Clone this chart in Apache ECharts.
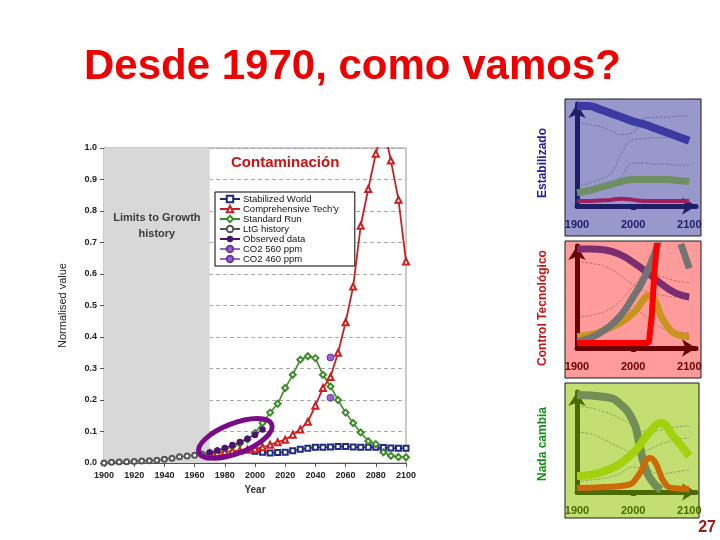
<!DOCTYPE html>
<html>
<head>
<meta charset="utf-8">
<script src="https://cdn.jsdelivr.net/npm/echarts@6/dist/echarts.min.js"></script>
<style>html,body{margin:0;padding:0;background:#fff}#c{width:720px;height:540px}</style>
</head>
<body>
<div id="c"></div>
<script>
// ---------- main chart data ----------
const ltgYears = [1900,1905,1910,1915,1920,1925,1930,1935,1940,1945,1950,1955,1960,1965,1970];
const ltgHistory = [0.0,0.002,0.003,0.004,0.005,0.006,0.007,0.009,0.012,0.015,0.02,0.022,0.025,0.028,0.032];
const runYears = [1970,1975,1980,1985,1990,1995,2000,2005,2010,2015,2020,2025,2030,2035,2040,2045,2050,2055,2060,2065,2070,2075,2080,2085,2090,2095,2100];
const standardRun = [0.03,0.038,0.045,0.052,0.062,0.075,0.095,0.127,0.16,0.188,0.238,0.28,0.328,0.339,0.333,0.28,0.243,0.2,0.16,0.127,0.097,0.069,0.06,0.034,0.023,0.019,0.018];
const compTech = [0.03,0.032,0.035,0.038,0.04,0.042,0.045,0.05,0.058,0.066,0.074,0.09,0.106,0.131,0.182,0.238,0.273,0.35,0.447,0.56,0.753,0.87,0.982,1.07,0.96,0.836,0.64];
const stabYears = [2000,2005,2010,2015,2020,2025,2030,2035,2040,2045,2050,2055,2060,2065,2070,2075,2080,2085,2090,2095,2100];
const stabilized = [0.037,0.034,0.032,0.033,0.034,0.039,0.044,0.047,0.05,0.05,0.051,0.052,0.052,0.051,0.05,0.05,0.05,0.049,0.048,0.047,0.047];
const obsYears = [1970,1975,1980,1985,1990,1995,2000,2005];
const observed = [0.033,0.04,0.048,0.057,0.067,0.077,0.089,0.106];
const co2Year = [2050];
const co2_560 = [0.335];
const co2_460 = [0.207];
const xTicks = {min:1900, max:2100, step:20};
const yTicks = {min:0, max:1, step:0.1};
const historyRange = [1900, 1970];
const ringCenter = [1987, 0.078];

// ---------- thumbnail panels data ----------
const p1Years = [1900,1920,1940,1960,1980,2000,2020,2040,2060,2080,2100];
const p1Blue  = [0.98,0.98,0.95,0.91,0.87,0.83,0.80,0.76,0.72,0.68,0.64];
const p1Green = [0.13,0.15,0.18,0.21,0.24,0.26,0.26,0.26,0.26,0.25,0.24];
const p1Red   = [0.05,0.05,0.055,0.06,0.07,0.06,0.05,0.05,0.05,0.05,0.05];
const p1FaintA = [0.19,0.22,0.26,0.32,0.52,0.65,0.66,0.67,0.67,0.67,0.67];
const p1FaintB = [0.10,0.13,0.16,0.20,0.30,0.42,0.42,0.41,0.41,0.40,0.40];
const p1FaintC = [0.82,0.80,0.78,0.74,0.70,0.72,0.86,0.87,0.87,0.88,0.88];

const p2Years = [1900,1925,1950,1975,2000,2025,2050,2075,2100];
const p2Purple = [0.97,0.97,0.96,0.92,0.84,0.74,0.63,0.54,0.50];
const p2GoldYears = [1900,1925,1950,1975,2000,2015,2025,2032,2040,2050,2060,2075,2100];
const p2Gold = [0.11,0.13,0.18,0.24,0.34,0.45,0.51,0.52,0.45,0.31,0.22,0.14,0.11];
const p2GreyYears = [1900,1925,1950,1975,2000,2020,2040,2050];
const p2Grey = [0.06,0.10,0.18,0.30,0.50,0.69,0.95,1.15];
const p2GreyTailYears = [2085,2100];
const p2GreyTail = [1.02,0.78];
const p2RedYears = [1900,1950,2000,2028,2033,2038,2042,2045];
const p2Red = [0.05,0.05,0.05,0.05,0.30,0.75,1.0,1.2];
const p2FaintA = [0.85,0.83,0.80,0.72,0.62,0.55,0.52,0.50,0.50];
const p2FaintB = [0.30,0.32,0.36,0.45,0.60,0.72,0.70,0.66,0.64];
const p2FaintC = [0.14,0.16,0.20,0.28,0.38,0.30,0.20,0.16,0.15];

const p3OliveYears = [1900,1950,1975,2000,2010,2020,2035,2050];
const p3Olive = [0.97,0.95,0.89,0.71,0.51,0.27,0.10,0.02];
const p3LimeYears = [1900,1950,2000,2025,2050,2070,2100];
const p3Lime = [0.16,0.21,0.39,0.57,0.69,0.57,0.36];
const p3OrangeYears = [1900,1950,1990,2010,2030,2040,2055,2070,2100];
const p3Orange = [0.04,0.05,0.07,0.17,0.34,0.29,0.10,0.04,0.03];
const p3FaintYears = [1900,1925,1950,1975,2000,2025,2050,2075,2100];
const p3FaintA = [0.86,0.84,0.80,0.74,0.66,0.60,0.62,0.65,0.66];
const p3FaintB = [0.10,0.12,0.14,0.18,0.25,0.22,0.18,0.20,0.22];
const p3FaintC = [0.60,0.58,0.52,0.45,0.40,0.42,0.48,0.52,0.54];
const panelTicks = [1900, 2000, 2100];

const zip = (xs, ys) => xs.map((x, i) => [x, ys[i]]);
const FONT = '"Liberation Sans", Arial, sans-serif';
const plain = v => String(v);

const chart = echarts.init(document.getElementById('c'), null, {renderer: 'canvas'});

function panelX(gi, color) {
  return {
    gridIndex: gi, type: 'value', min: 1900, max: 2112,
    axisLine: {show: true, onZero: false, symbol: ['none', 'arrow'], symbolSize: [13, 14],
      lineStyle: {color: color, width: 5}},
    axisTick: {show: true, customValues: [2000], length: 4, lineStyle: {color: color, width: 5}},
    axisLabel: {show: true, customValues: panelTicks, margin: 13, fontFamily: FONT,
      fontWeight: 'bold', fontSize: 11, color: color, formatter: plain},
    splitLine: {show: false}
  };
}
function panelY(gi, color) {
  return {
    gridIndex: gi, type: 'value', min: 0, max: 1,
    axisLine: {show: true, onZero: false, symbol: ['none', 'arrow'], symbolSize: [13, 14],
      lineStyle: {color: color, width: 5}},
    axisTick: {show: false}, axisLabel: {show: false}, splitLine: {show: false}
  };
}
function thick(gi, name, data, color, width, smooth) {
  return {type: 'line', name: name, xAxisIndex: gi, yAxisIndex: gi, data: data,
    showSymbol: false, symbol: 'none', smooth: smooth === undefined ? true : smooth,
    clip: true, lineStyle: {color: color, width: width, cap: 'butt'}, z: 5, silent: true};
}
function faint(gi, name, data) {
  return {type: 'line', name: name, xAxisIndex: gi, yAxisIndex: gi, data: data,
    symbol: 'none', smooth: true, clip: true, silent: true,
    lineStyle: {color: '#222', width: 0.7, type: 'dashed', opacity: 0.45}, z: 3};
}

const legendNames = ['Stabilized World', "Comprehensive Tech'y", 'Standard Run', 'LtG history', 'Observed data', 'CO2 560 ppm', 'CO2 460 ppm'];
const thinMark = {borderWidth: 1};

const option = {
  animation: false,
  backgroundColor: '#ffffff',
  textStyle: {fontFamily: FONT},
  legend: {
    data: legendNames, orient: 'vertical', left: 215, top: 192,
    padding: [2, 16, 2, 4], itemGap: 0, itemWidth: 20, itemHeight: 8,
    borderColor: '#000', borderWidth: 1, backgroundColor: '#fff',
    textStyle: {fontSize: 9.5, lineHeight: 10, color: '#111', fontFamily: FONT, padding: [0, 0, 0, -2]},
    selectedMode: false
  },
  grid: [
    {left: 104, right: 314, top: 148, bottom: 77, show: true, borderColor: '#999', borderWidth: 1, backgroundColor: 'transparent'},
    {left: 577, right: 24, top: 104, bottom: 334},
    {left: 577, right: 24, top: 246, bottom: 192},
    {left: 577, right: 24, top: 392, bottom: 48}
  ],
  xAxis: [
    {gridIndex: 0, type: 'value', min: xTicks.min, max: xTicks.max, interval: xTicks.step,
     name: 'Year', nameLocation: 'middle', nameGap: 21,
     nameTextStyle: {fontSize: 10, fontWeight: 'bold', color: '#333', fontFamily: FONT},
     axisLine: {lineStyle: {color: '#555', width: 1}},
     axisTick: {length: 4, lineStyle: {color: '#555'}},
     axisLabel: {fontSize: 9, fontWeight: 'bold', color: '#222', margin: 8, fontFamily: FONT, formatter: plain},
     splitLine: {show: false}},
    panelX(1, '#1e1e66'), panelX(2, '#6a0000'), panelX(3, '#4a6b00')
  ],
  yAxis: [
    {gridIndex: 0, type: 'value', min: yTicks.min, max: yTicks.max, interval: yTicks.step,
     name: 'Normalised value', nameLocation: 'middle', nameGap: 36,
     nameTextStyle: {fontSize: 11, color: '#222', fontFamily: FONT},
     axisLine: {show: true, lineStyle: {color: '#555', width: 1}},
     axisTick: {show: true, length: 4, lineStyle: {color: '#555'}},
     axisLabel: {fontSize: 9, fontWeight: 'bold', color: '#222', margin: 7, fontFamily: FONT,
       formatter: v => v.toFixed(1)},
     splitLine: {show: true, lineStyle: {color: '#a8a8a8', type: [4, 3], width: 1}}},
    panelY(1, '#1e1e66'), panelY(2, '#6a0000'), panelY(3, '#4a6b00')
  ],
  series: [
    {type: 'line', name: 'history-area', xAxisIndex: 0, yAxisIndex: 0, data: [], z: 1, silent: true,
     markArea: {silent: true, itemStyle: {color: '#d8d8d8'},
       label: {show: true, position: 'insideTop', distance: 62, fontSize: 11, fontWeight: 'bold',
         color: '#3c3c3c', lineHeight: 16, fontFamily: FONT, formatter: 'Limits to Growth\nhistory'},
       data: [[{xAxis: historyRange[0]}, {xAxis: historyRange[1]}]]}},
    {type: 'line', name: 'Stabilized World', data: zip(stabYears, stabilized), color: '#1f2a80',
     symbol: 'emptyRect', symbolSize: 5, itemStyle: thinMark, lineStyle: {width: 1.5}, z: 4},
    {type: 'line', name: "Comprehensive Tech'y", data: zip(runYears, compTech), color: '#cc2020',
     symbol: 'emptyTriangle', symbolSize: 6, itemStyle: thinMark, lineStyle: {width: 1.8}, clip: true, z: 5},
    {type: 'line', name: 'Standard Run', data: zip(runYears, standardRun), color: '#3f8c2a',
     symbol: 'emptyDiamond', symbolSize: 6, itemStyle: thinMark, lineStyle: {width: 1.6}, z: 4},
    {type: 'line', name: 'LtG history', data: zip(ltgYears, ltgHistory), color: '#555',
     symbol: 'emptyCircle', symbolSize: 5, itemStyle: thinMark, lineStyle: {width: 1.2}, z: 4},
    {type: 'line', name: 'Observed data', data: zip(obsYears, observed), color: '#4b1470',
     symbol: 'circle', symbolSize: 6.5, lineStyle: {width: 1}, z: 6},
    {type: 'line', name: 'CO2 560 ppm', data: zip(co2Year, co2_560), color: '#9a62cc',
     symbol: 'circle', symbolSize: 7, itemStyle: {borderColor: '#6b3a9a', borderWidth: 1}, z: 6},
    {type: 'line', name: 'CO2 460 ppm', data: zip(co2Year, co2_460), color: '#9a62cc',
     symbol: 'circle', symbolSize: 7, itemStyle: {borderColor: '#6b3a9a', borderWidth: 1}, z: 6},
    // panel 1 : Estabilizado
    faint(1, 'p1fa', zip(p1Years, p1FaintA)), faint(1, 'p1fb', zip(p1Years, p1FaintB)), faint(1, 'p1fc', zip(p1Years, p1FaintC)),
    thick(1, 'p1blue', zip(p1Years, p1Blue), '#3a3aa2', 8),
    thick(1, 'p1green', zip(p1Years, p1Green), '#6f8f62', 7),
    thick(1, 'p1red', zip(p1Years, p1Red), '#9c2060', 4),
    // panel 2 : Control Tecnológico
    faint(2, 'p2fa', zip(p2Years, p2FaintA)), faint(2, 'p2fb', zip(p2Years, p2FaintB)), faint(2, 'p2fc', zip(p2Years, p2FaintC)),
    thick(2, 'p2purple', zip(p2Years, p2Purple), '#7a2e6e', 7),
    thick(2, 'p2gold', zip(p2GoldYears, p2Gold), '#c9951f', 7),
    thick(2, 'p2grey', zip(p2GreyYears, p2Grey), '#737373', 7),
    thick(2, 'p2greytail', zip(p2GreyTailYears, p2GreyTail), '#737373', 7, false),
    thick(2, 'p2red', zip(p2RedYears, p2Red), '#ff0000', 6, false),
    // panel 3 : Nada cambia
    faint(3, 'p3fa', zip(p3FaintYears, p3FaintA)), faint(3, 'p3fb', zip(p3FaintYears, p3FaintB)), faint(3, 'p3fc', zip(p3FaintYears, p3FaintC)),
    thick(3, 'p3olive', zip(p3OliveYears, p3Olive), '#728d56', 8),
    thick(3, 'p3lime', zip(p3LimeYears, p3Lime), '#a2d10e', 8),
    thick(3, 'p3orange', zip(p3OrangeYears, p3Orange), '#cc6a08', 6)
  ],
  graphic: {elements: [
    {id: 'bg1', type: 'rect', z: -10, shape: {x: 565, y: 99, width: 136, height: 137}, style: {fill: '#9898cd', stroke: '#1a1a1a', lineWidth: 1}},
    {id: 'bg2', type: 'rect', z: -10, shape: {x: 565, y: 241, width: 136, height: 137}, style: {fill: '#ff9b9b', stroke: '#1a1a1a', lineWidth: 1}},
    {id: 'bg3', type: 'rect', z: -10, shape: {x: 565, y: 383, width: 134, height: 135}, style: {fill: '#c3df72', stroke: '#1a1a1a', lineWidth: 1}},
    {id: 'title', type: 'text', x: 84, y: 67, style: {text: 'Desde 1970, como vamos?', fill: '#ee0000',
      font: 'bold 42px ' + FONT, textAlign: 'left', textVerticalAlign: 'middle'}},
    {id: 'cont', type: 'text', x: 231, y: 163, z: 20, style: {text: 'Contaminación', fill: '#cc1111',
      font: 'bold 15px ' + FONT, textAlign: 'left', textVerticalAlign: 'middle'}},
    {id: 'lab1', type: 'text', x: 543, y: 163, rotation: Math.PI / 2, style: {text: 'Estabilizado', fill: '#2020a0',
      font: 'bold 12px ' + FONT, textAlign: 'center', textVerticalAlign: 'middle'}},
    {id: 'lab2', type: 'text', x: 543, y: 308, rotation: Math.PI / 2, style: {text: 'Control Tecnológico', fill: '#cc1111',
      font: 'bold 12px ' + FONT, textAlign: 'center', textVerticalAlign: 'middle'}},
    {id: 'lab3', type: 'text', x: 543, y: 444, rotation: Math.PI / 2, style: {text: 'Nada cambia', fill: '#159015',
      font: 'bold 12px ' + FONT, textAlign: 'center', textVerticalAlign: 'middle'}},
    {id: 'page', type: 'text', x: 716, y: 528, style: {text: '27', fill: '#a01818',
      font: 'bold 16px ' + FONT, textAlign: 'right', textVerticalAlign: 'middle'}}
  ]}
};

chart.setOption(option);
const rc = chart.convertToPixel({xAxisIndex: 0, yAxisIndex: 0}, ringCenter);
option.graphic.elements.push({id: 'ring', type: 'ellipse', x: rc[0], y: rc[1], rotation: 0.37, z: 100,
  shape: {cx: 0, cy: 0, rx: 39, ry: 15}, style: {fill: 'none', stroke: '#7a0a88', lineWidth: 5}});
chart.setOption(option, true);
</script>
</body>
</html>
